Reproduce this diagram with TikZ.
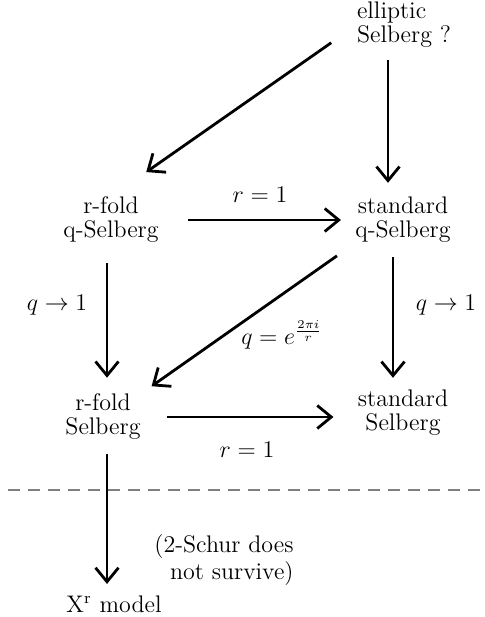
\documentclass[tikz,border=0pt]{standalone}
\usepackage{amsmath,amssymb}
\usepackage{tikz}
\usetikzlibrary{arrows.meta}

\begin{document}
\begin{tikzpicture}[
	x=0.5pt, y=-0.5pt,
	font=\fontsize{12}{12}\selectfont,
	term/.style={align=center, inner sep=0pt},
	lbl/.style={inner sep=0pt},
	line/.style={-{Straight Barb[length=7pt,width=11.5pt]}, line width=1.4pt},
	cut/.style={gray, line width=0.6pt, dash pattern=on 6pt off 4pt}
]
\useasboundingbox (0,0) rectangle (484,617);

\node[term, align=left] (ell) at (404,25) {elliptic \\ Selberg ?};
\node[term] (rq) at (111,220) {r-fold \\ q-Selberg};
\node[term] (sq) at (403,220) {standard \\ q-Selberg};
\node[term] (rs) at (103,417) {r-fold \\ Selberg};
\node[term] (ss) at (403,413) {standard \\ Selberg};
\node[term, anchor=base] (xr) at (114,612) {X\textsuperscript{r} model};
\node[term, align=right] (schur) at (224,560) {(2-Schur does \\ not survive)};

\node[lbl] (l1) at (260,195) {$r=1$};
\node[lbl] (l2) at (57,305) {$q\to 1$};
\node[lbl] (l3) at (446,305) {$q\to 1$};
\node[lbl] (l4) at (282,335) {$q=e^{\frac{2\pi i}{r}}$};
\node[lbl] (l5) at (247,450) {$r=1$};

\draw[line, shorten <=15.5pt, shorten >=21.5pt] (ell.west) -- (rq.north);
\draw[line, shorten <=6pt, shorten >=7pt] ([xshift=-8pt]ell.south) -- ([xshift=-7.5pt]sq.north);
\draw[line, shorten <=14.5pt, shorten >=7pt] (rq.east) -- (sq.west);
\draw[line, shorten <=10pt, shorten >=8pt] ([xshift=-2pt]rq.south) -- ([xshift=2pt]rs.north);
\draw[line, shorten <=11pt, shorten >=6.5pt] (sq.south west) -- (rs.north east);
\draw[line, shorten <=7pt, shorten >=6pt] ([xshift=-5pt]sq.south) -- ([xshift=-5pt]ss.north);
\draw[line, shorten <=13pt, shorten >=12pt] (rs.east) -- (rs.east -| ss.west);
\draw[line, shorten <=7pt, shorten >=5.5pt] ([xshift=2pt]rs.south) -- ([xshift=-3.5pt]xr.north);

\draw[cut] (8,490) -- (484,490);
\end{tikzpicture}
\end{document}
